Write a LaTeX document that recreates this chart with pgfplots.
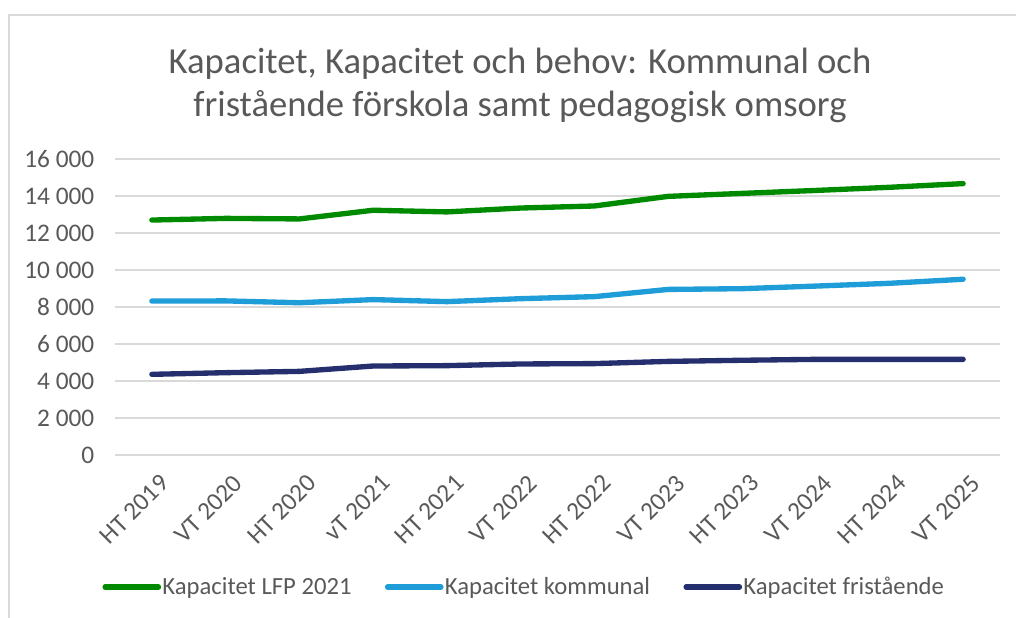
\documentclass[border=0pt]{standalone}
\usepackage{pgfplots}
\pgfplotsset{compat=1.18}
\usepackage{fontspec}
\setmainfont{Carlito}
\definecolor{cgreen}{HTML}{008A00}
\definecolor{clblue}{HTML}{1F9DD9}
\definecolor{cnavy}{HTML}{262F6E}
\definecolor{ctext}{HTML}{595959}
\definecolor{cgrid}{HTML}{D9D9D9}
\begin{document}
\begin{tikzpicture}
\useasboundingbox (0,0) rectangle (762pt,462.75pt);
\draw[cgrid, line width=1pt] (6.75pt,-10pt) -- (6.75pt,451.5pt) -- (790pt,451.5pt);
\node[align=center, font=\fontsize{27.5}{32.5}\selectfont, text=ctext] at (390pt,398.5pt)
  {Kapacitet, Kapacitet och behov: Kommunal och\\fristående förskola samt pedagogisk omsorg};
\begin{axis}[
  at={(86.25pt,121.5pt)}, anchor=south west,
  scale only axis, width=663.75pt, height=222pt,
  xmin=-0.5, xmax=11.5, ymin=0, ymax=16000,
  scaled y ticks=false,
  axis line style={draw=none},
  major tick length=0pt,
  ymajorgrids, grid style={cgrid, line width=1.1pt},
  ytick={0,2000,4000,6000,8000,10000,12000,14000,16000},
  yticklabels={0,2 000,4 000,6 000,8 000,10 000,12 000,14 000,16 000},
  xtick={0,1,2,3,4,5,6,7,8,9,10,11},
  xticklabels={HT 2019,VT 2020,HT 2020,vT 2021,HT 2021,VT 2022,HT 2022,VT 2023,HT 2023,VT 2024,HT 2024,VT 2025},
  tick label style={font=\fontsize{19}{22}\selectfont, text=ctext},
  yticklabel style={xshift=-12pt},
  xticklabel style={rotate=45, anchor=north east, inner sep=0pt, yshift=-13pt, xshift=-6pt},
  legend style={at={(0.462,-0.446)}, anchor=center, draw=none, fill=none,
    legend columns=3, font=\fontsize{18.5}{21}\selectfont, text=ctext,
    /tikz/every even column/.append style={column sep=24pt},
    nodes={inner sep=1pt}},
  legend image code/.code={\draw[#1] (0pt,0pt) -- (40pt,0pt);},
  every axis plot/.append style={line width=4pt, line cap=round, line join=round},
]
\addplot[cgreen] coordinates {(0,12700) (1,12790) (2,12760) (3,13230) (4,13140) (5,13350) (6,13460) (7,13980) (8,14140) (9,14300) (10,14470) (11,14670)};
\addlegendentry{Kapacitet LFP 2021}
\addplot[clblue] coordinates {(0,8320) (1,8330) (2,8230) (3,8400) (4,8290) (5,8450) (6,8560) (7,8950) (8,8990) (9,9130) (10,9280) (11,9500)};
\addlegendentry{Kapacitet kommunal}
\addplot[cnavy] coordinates {(0,4360) (1,4450) (2,4520) (3,4810) (4,4830) (5,4920) (6,4940) (7,5060) (8,5120) (9,5170) (10,5170) (11,5170)};
\addlegendentry{Kapacitet fristående}
\end{axis}
\end{tikzpicture}
\end{document}
